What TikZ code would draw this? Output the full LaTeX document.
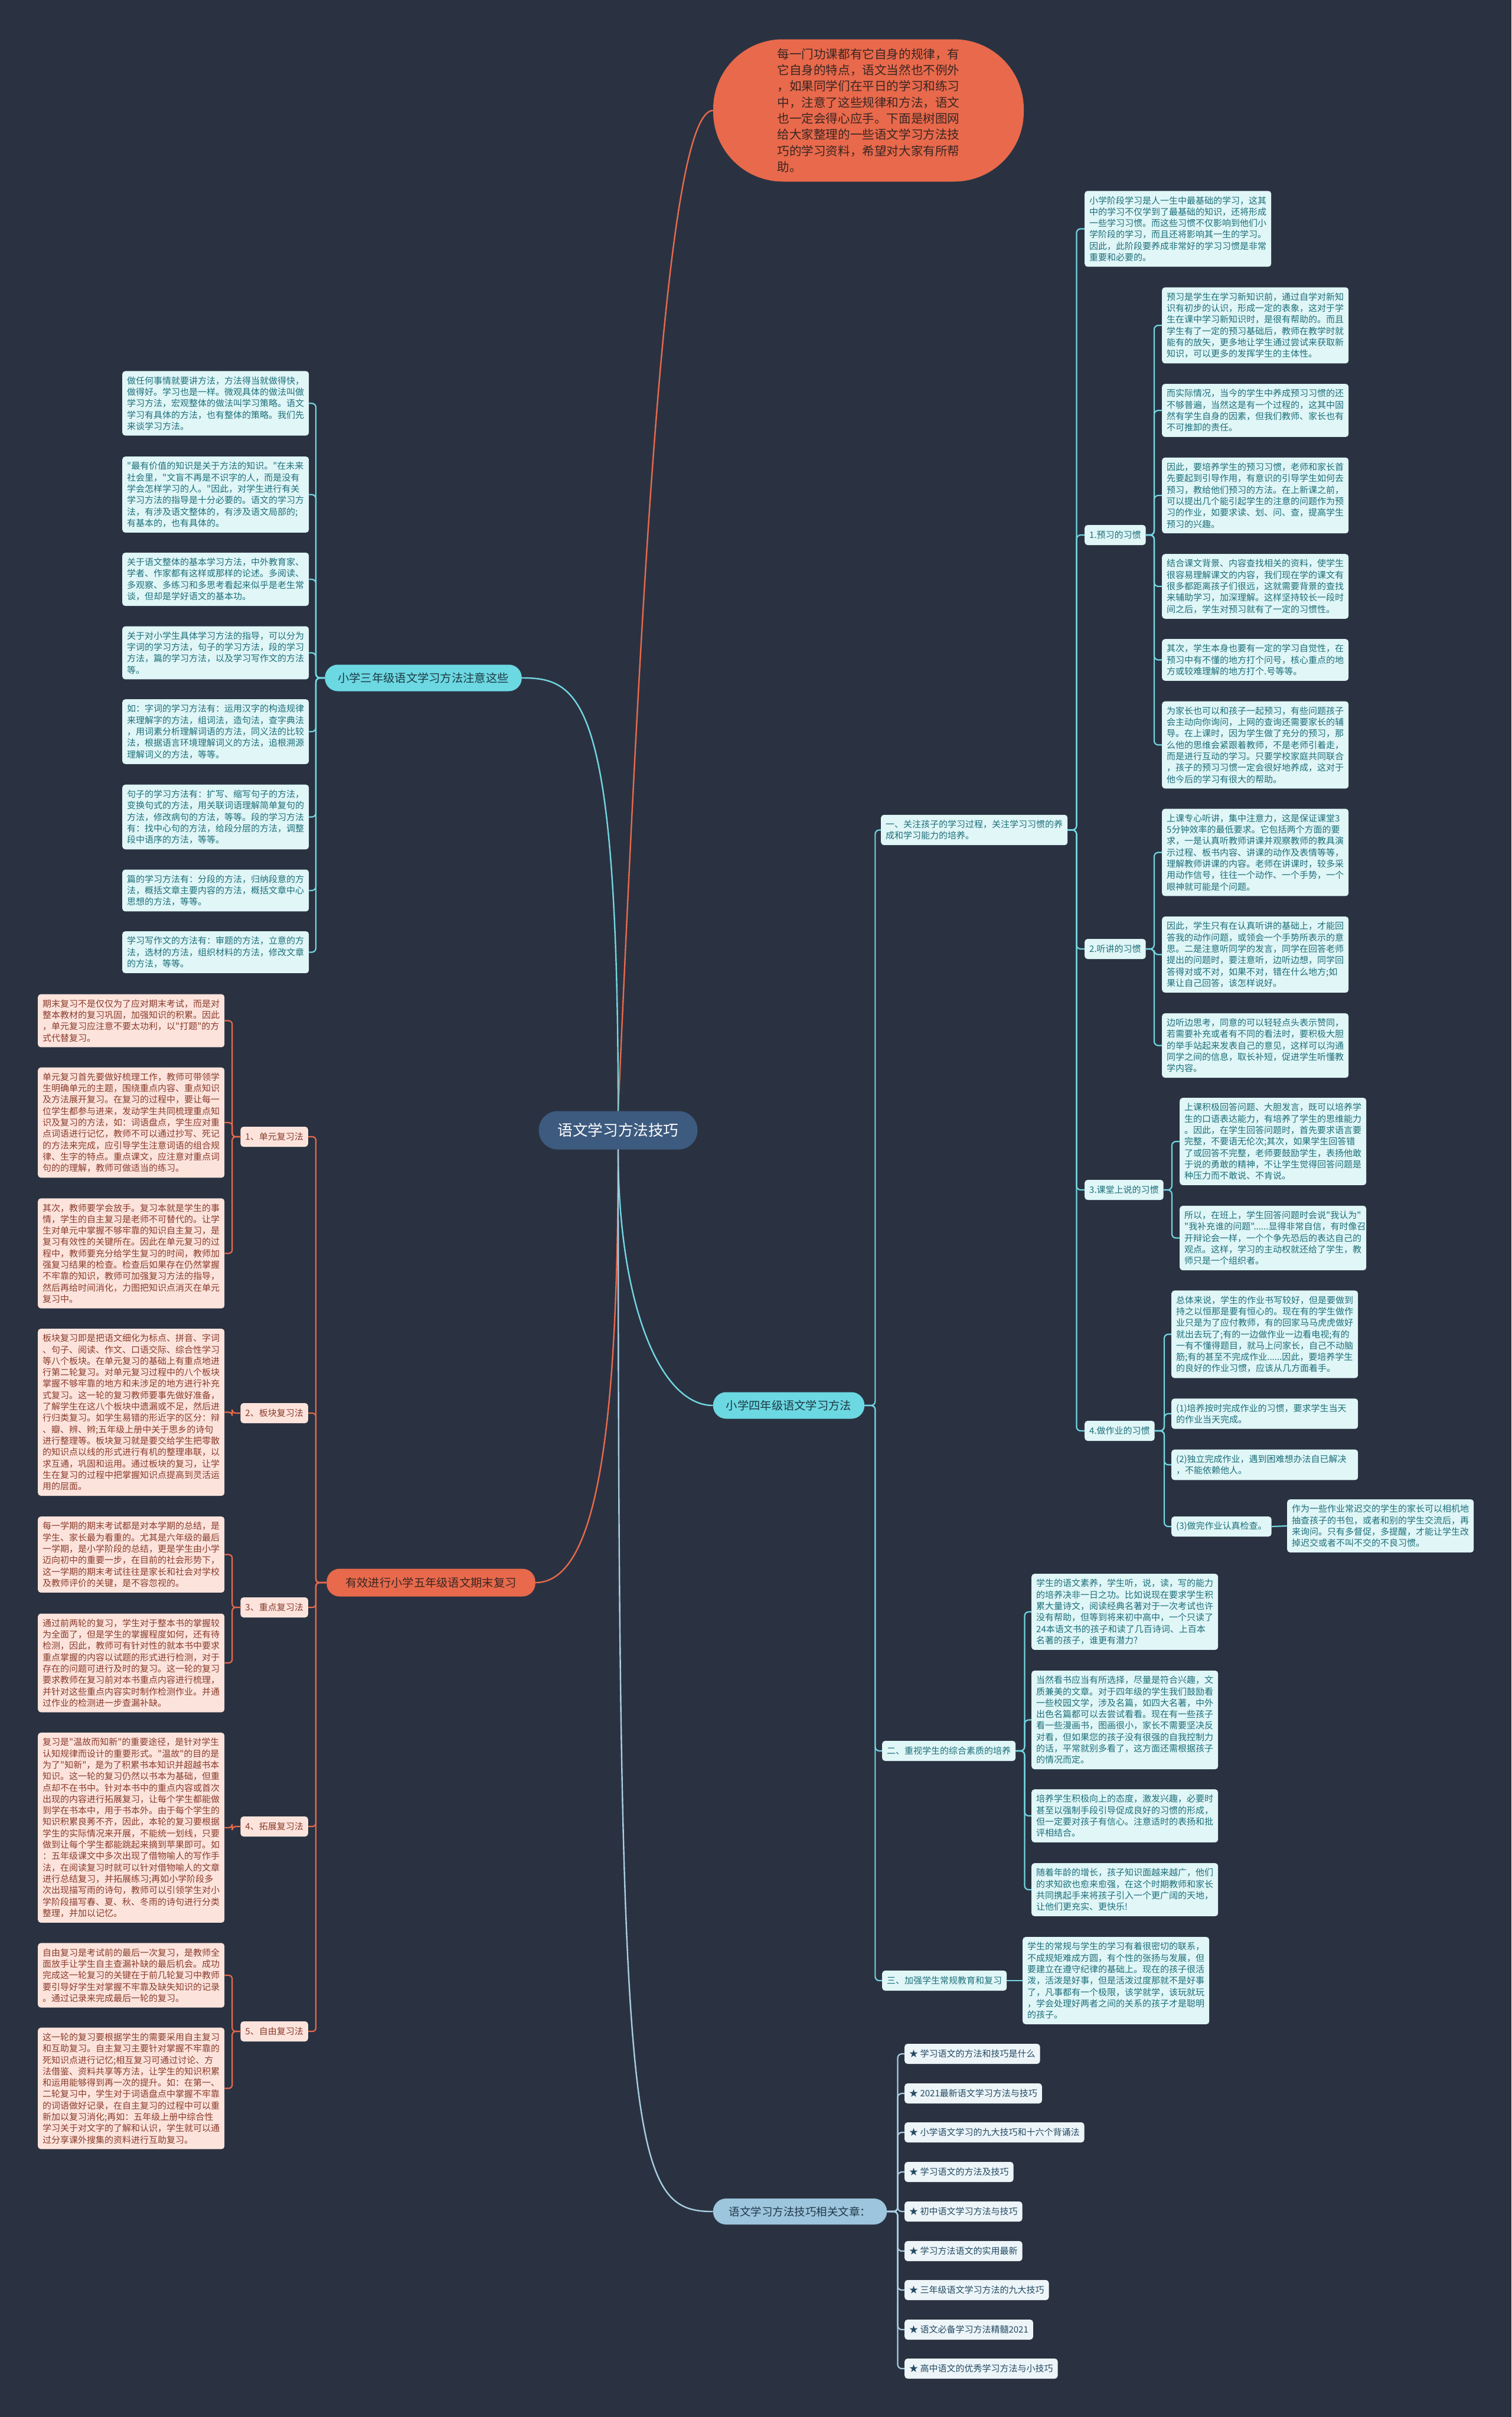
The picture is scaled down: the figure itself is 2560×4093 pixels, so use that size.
\documentclass[tikz,border=0pt]{standalone}
\usepackage{fontspec}
\setmainfont{Noto Sans CJK SC}[Ligatures=TeXOff]
\definecolor{bgdark}{HTML}{2A3241}
\definecolor{cyanline}{HTML}{72D6E1}
\definecolor{cyanfill}{HTML}{E0F6F7}
\definecolor{cyantext}{HTML}{1D6F7A}
\definecolor{cyanpill}{HTML}{6CD8E2}
\definecolor{pilltext}{HTML}{1D3A45}
\definecolor{orangeline}{HTML}{E8694B}
\definecolor{bubbletext}{HTML}{3A2623}
\definecolor{pinkfill}{HTML}{FCE4DD}
\definecolor{pinktext}{HTML}{8B3B2B}
\definecolor{rootfill}{HTML}{3D5A7F}
\definecolor{bluefill}{HTML}{9DC5DD}
\definecolor{bluetext}{HTML}{22394A}
\definecolor{blueline}{HTML}{A9CDE2}
\definecolor{linkfill}{HTML}{EDF5F9}
\definecolor{linktext}{HTML}{234A62}

\begin{document}
\begin{tikzpicture}[x=1pt, y=-1pt,
  notebox/.style={rectangle, rounded corners=5pt, fill=cyanfill, text=cyantext,
    font=\fontsize{15}{19.3}\selectfont, text width=300pt, align=left,
    inner xsep=8pt, inner ysep=9pt, anchor=west},
  pinkbox/.style={notebox, fill=pinkfill, text=pinktext},
  labelbox/.style={rectangle, rounded corners=5pt, fill=cyanfill, text=cyantext,
    font=\fontsize{15}{19.3}\selectfont, minimum height=34pt, inner xsep=8pt, anchor=west},
  pinklabel/.style={labelbox, fill=pinkfill, text=pinktext, anchor=east},
  linkbox/.style={labelbox, fill=linkfill, text=linktext},
  pill/.style={rectangle, rounded corners=22pt, fill=cyanpill, text=pilltext,
    font=\fontsize{19.3}{23}\selectfont, minimum height=45pt, inner xsep=22pt},
  cyanwire/.style={draw=cyanline, line width=2.2pt, rounded corners=7pt},
  orangewire/.style={draw=orangeline, line width=2.2pt, rounded corners=6pt},
  bluewire/.style={draw=blueline, line width=2.2pt, rounded corners=7pt}
]
  \useasboundingbox (0,0) rectangle (2560,4093);
  \fill[bgdark] (0,0) rectangle (2560,4093);

  \node[rectangle, rounded corners=118pt, fill=orangeline, text=bubbletext,
        font=\fontsize{20.6}{27.3}\selectfont, align=left,
        minimum width=526pt, minimum height=241pt] (intro) at (1471,187)
    {每一门功课都有它自身的规律，有\\它自身的特点，语文当然也不例外\\，如果同学们在平日的学习和练习\\中，注意了这些规律和方法，语文\\也一定会得心应手。下面是树图网\\给大家整理的一些语文学习方法技\\巧的学习资料，希望对大家有所帮\\助。};

  \node[rectangle, rounded corners=32pt, fill=rootfill, text=white,
        font=\fontsize{25.6}{30}\selectfont, minimum height=65pt, inner xsep=32pt] (root) at (1047,1914) {语文学习方法技巧};

  \node[pill] (grade3) at (717,1148) {小学三年级语文学习方法注意这些};
  \node[pill] (grade4) at (1336,2380) {小学四年级语文学习方法};
  \node[pill, fill=orangeline, text=bubbletext, inner xsep=32pt, minimum height=47pt] (grade5) at (730,2680) {有效进行小学五年级语文期末复习};
  \node[pill, fill=bluefill, text=bluetext, font=\fontsize{18.5}{22}\selectfont, inner xsep=27pt, minimum height=44pt] (related) at (1355,3745) {语文学习方法技巧相关文章：};

  % grade 3
  \node[notebox] (meth1) at (207,683) {做任何事情就要讲方法，方法得当就做得快，\\做得好。学习也是一样。微观具体的做法叫做\\学习方法，宏观整体的做法叫学习策略。语文\\学习有具体的方法，也有整体的策略。我们先\\来谈学习方法。};
  \node[notebox] (meth2) at (207,837.5) {"最有价值的知识是关于方法的知识。"在未来\\社会里，"文盲不再是不识字的人，而是没有\\学会怎样学习的人。"因此，对学生进行有关\\学习方法的指导是十分必要的。语文的学习方\\法，有涉及语文整体的，有涉及语文局部的;\\有基本的，也有具体的。};
  \node[notebox] (meth3) at (207,981) {关于语文整体的基本学习方法，中外教育家、\\学者、作家都有这样或那样的论述。多阅读、\\多观察、多练习和多思考看起来似乎是老生常\\谈，但却是学好语文的基本功。};
  \node[notebox] (meth4) at (207,1105.5) {关于对小学生具体学习方法的指导，可以分为\\字词的学习方法，句子的学习方法，段的学习\\方法，篇的学习方法，以及学习写作文的方法\\等。};
  \node[notebox] (meth5) at (207,1239) {如：字词的学习方法有：运用汉字的构造规律\\来理解字的方法，组词法，造句法，查字典法\\，用词素分析理解词语的方法，同义法的比较\\法，根据语言环境理解词义的方法，追根溯源\\理解词义的方法，等等。};
  \node[notebox] (meth6) at (207,1383.5) {句子的学习方法有：扩写、缩写句子的方法，\\变换句式的方法，用关联词语理解简单复句的\\方法，修改病句的方法，等等。段的学习方法\\有：找中心句的方法，给段分层的方法，调整\\段中语序的方法，等等。};
  \node[notebox] (meth7) at (207,1508) {篇的学习方法有：分段的方法，归纳段意的方\\法，概括文章主要内容的方法，概括文章中心\\思想的方法，等等。};
  \node[notebox] (meth8) at (207,1612.5) {学习写作文的方法有：审题的方法，立意的方\\法，选材的方法，组织材料的方法，修改文章\\的方法，等等。};

  % grade 4
  \node[notebox] (habits) at (1492,1405.5) {一、关注孩子的学习过程，关注学习习惯的养\\成和学习能力的培养。};
  \node[labelbox] (quality) at (1494,2965) {二、重视学生的综合素质的培养};
  \node[labelbox] (routine) at (1494,3354) {三、加强学生常规教育和复习};

  \node[notebox] (habit0) at (1837,387.5) {小学阶段学习是人一生中最基础的学习，这其\\中的学习不仅学到了最基础的知识，还将形成\\一些学习习惯。而这些习惯不仅影响到他们小\\学阶段的学习，而且还将影响其一生的学习。\\因此，此阶段要养成非常好的学习习惯是非常\\重要和必要的。};
  \node[labelbox] (preview) at (1837,906) {1.预习的习惯};
  \node[labelbox] (listen) at (1837,1607) {2.听讲的习惯};
  \node[labelbox] (speak) at (1837,2015) {3.课堂上说的习惯};
  \node[labelbox] (homework) at (1837,2423) {4.做作业的习惯};

  \node[notebox] (pre1) at (1968,551) {预习是学生在学习新知识前，通过自学对新知\\识有初步的认识，形成一定的表象，这对于学\\生在课中学习新知识时，是很有帮助的。而且\\学生有了一定的预习基础后，教师在教学时就\\能有的放矢，更多地让学生通过尝试来获取新\\知识，可以更多的发挥学生的主体性。};
  \node[notebox] (pre2) at (1968,695) {而实际情况，当今的学生中养成预习习惯的还\\不够普遍，当然这是有一个过程的，这其中固\\然有学生自身的因素，但我们教师、家长也有\\不可推卸的责任。};
  \node[notebox] (pre3) at (1968,839) {因此，要培养学生的预习习惯，老师和家长首\\先要起到引导作用，有意识的引导学生如何去\\预习，教给他们预习的方法。在上新课之前，\\可以提出几个能引起学生的注意的问题作为预\\习的作业，如要求读、划、问、查，提高学生\\预习的兴趣。};
  \node[notebox] (pre4) at (1968,993) {结合课文背景、内容查找相关的资料，使学生\\很容易理解课文的内容，我们现在学的课文有\\很多都距离孩子们很远，这就需要背景的查找\\来辅助学习，加深理解。这样坚持较长一段时\\间之后，学生对预习就有了一定的习惯性。};
  \node[notebox] (pre5) at (1968,1117.5) {其次，学生本身也要有一定的学习自觉性，在\\预习中有不懂的地方打个问号，核心重点的地\\方或较难理解的地方打个.号等等。};
  \node[notebox] (pre6) at (1968,1261.5) {为家长也可以和孩子一起预习，有些问题孩子\\会主动向你询问，上网的查询还需要家长的辅\\导。在上课时，因为学生做了充分的预习，那\\么他的思维会紧跟着教师，不是老师引着走，\\而是进行互动的学习。只要学校家庭共同联合\\，孩子的预习习惯一定会很好地养成，这对于\\他今后的学习有很大的帮助。};

  \node[notebox] (lis1) at (1968,1443.5) {上课专心听讲，集中注意力，这是保证课堂3\\5分钟效率的最低要求。它包括两个方面的要\\求，一是认真听教师讲课并观察教师的教具演\\示过程、板书内容、讲课的动作及表情等等，\\理解教师讲课的内容。老师在讲课时，较多采\\用动作信号，往往一个动作、一个手势，一个\\眼神就可能是个问题。};
  \node[notebox] (lis2) at (1968,1616.5) {因此，学生只有在认真听讲的基础上，才能回\\答我的动作问题，或领会一个手势所表示的意\\思。二是注意听同学的发言，同学在回答老师\\提出的问题时，要注意听，边听边想，同学回\\答得对或不对，如果不对，错在什么地方;如\\果让自己回答，该怎样说好。};
  \node[notebox] (lis3) at (1968,1770.5) {边听边思考，同意的可以轻轻点头表示赞同，\\若需要补充或者有不同的看法时，要积极大胆\\的举手站起来发表自己的意见，这样可以沟通\\同学之间的信息，取长补短，促进学生听懂教\\学内容。};

  \node[notebox] (spk1) at (1998,1933) {上课积极回答问题、大胆发言，既可以培养学\\生的口语表达能力，有培养了学生的思维能力\\。因此，在学生回答问题时，首先要求语言要\\完整，不要语无伦次;其次，如果学生回答错\\了或回答不完整，老师要鼓励学生，表扬他敢\\于说的勇敢的精神，不让学生觉得回答问题是\\种压力而不敢说、不肯说。};
  \node[notebox] (spk2) at (1998,2096.5) {所以，在班上，学生回答问题时会说"我认为"\\"我补充谁的问题"......显得非常自信，有时像召\\开辩论会一样，一个个争先恐后的表达自己的\\观点。这样，学习的主动权就还给了学生，教\\师只是一个组织者。};

  \node[notebox] (hw1) at (1984,2259.5) {总体来说，学生的作业书写较好，但是要做到\\持之以恒那是要有恒心的。现在有的学生做作\\业只是为了应付教师，有的回家马马虎虎做好\\就出去玩了;有的一边做作业一边看电视;有的\\一有不懂得题目，就马上问家长，自己不动脑\\筋;有的甚至不完成作业......因此，要培养学生\\的良好的作业习惯，应该从几方面着手。};
  \node[notebox] (hw2) at (1984,2394) {(1)培养按时完成作业的习惯，要求学生当天\\的作业当天完成。};
  \node[notebox] (hw3) at (1984,2480.5) {(2)独立完成作业，遇到困难想办法自已解决\\，不能依赖他人。};
  \node[labelbox] (hw4) at (1984,2585) {(3)做完作业认真检查。};
  \node[notebox] (hw5) at (2180,2584) {作为一些作业常迟交的学生的家长可以相机地\\抽查孩子的书包，或者和别的学生交流后，再\\来询问。只有多督促，多提醒，才能让学生改\\掉迟交或者不叫不交的不良习惯。};

  \node[notebox] (qual1) at (1747,2729.5) {学生的语文素养，学生听，说，读，写的能力\\的培养决非一日之功。比如说现在要求学生积\\累大量诗文，阅读经典名著对于一次考试也许\\没有帮助，但等到将来初中高中，一个只读了\\24本语文书的孩子和读了几百诗词、上百本\\名著的孩子，谁更有潜力?};
  \node[notebox] (qual2) at (1747,2912.5) {当然看书应当有所选择，尽量是符合兴趣，文\\质兼美的文章。对于四年级的学生我们鼓励看\\一些校园文学，涉及名篇，如四大名著，中外\\出色名篇都可以去尝试看看。现在有一些孩子\\看一些漫画书，图画很小，家长不需要坚决反\\对看，但如果您的孩子没有很强的自我控制力\\的话，平常就别多看了，这方面还需根据孩子\\的情况而定。};
  \node[notebox] (qual3) at (1747,3075) {培养学生积极向上的态度，激发兴趣，必要时\\甚至以强制手段引导促成良好的习惯的形成，\\但一定要对孩子有信心。注意适时的表扬和批\\评相结合。};
  \node[notebox] (qual4) at (1747,3200) {随着年龄的增长，孩子知识面越来越广，他们\\的求知欲也愈来愈强，在这个时期教师和家长\\共同携起手来将孩子引入一个更广阔的天地，\\让他们更充实、更快乐!};
  \node[notebox] (rout1) at (1732,3354) {学生的常规与学生的学习有着很密切的联系，\\不成规矩难成方圆，有个性的张扬与发展，但\\要建立在遵守纪律的基础上。现在的孩子很活\\泼，活泼是好事，但是活泼过度那就不是好事\\了，凡事都有一个极限，该学就学，该玩就玩\\，学会处理好两者之间的关系的孩子才是聪明\\的孩子。};

  % grade 5
  \node[pinklabel] (unitrev) at (522,1925) {1、单元复习法};
  \node[pinklabel] (blockrev) at (522,2393) {2、板块复习法};
  \node[pinklabel] (keyrev) at (522,2722) {3、重点复习法};
  \node[pinklabel] (extrev) at (522,3093) {4、拓展复习法};
  \node[pinklabel] (freerev) at (522,3440) {5、自由复习法};

  \node[pinkbox] (unit1) at (64,1728.5) {期末复习不是仅仅为了应对期末考试，而是对\\整本教材的复习巩固，加强知识的积累。因此\\，单元复习应注意不要太功利，以"打题"的方\\式代替复习。};
  \node[pinkbox] (unit2) at (64,1901) {单元复习首先要做好梳理工作，教师可带领学\\生明确单元的主题，围绕重点内容、重点知识\\及方法展开复习。在复习的过程中，要让每一\\位学生都参与进来，发动学生共同梳理重点知\\识及复习的方法，如：词语盘点，学生应对重\\点词语进行记忆，教师不可以通过抄写、死记\\的方法来完成，应引导学生注意词语的组合规\\律、生字的特点。重点课文，应注意对重点词\\句的的理解，教师可做适当的练习。};
  \node[pinkbox] (unit3) at (64,2122.5) {其次，教师要学会放手。复习本就是学生的事\\情，学生的自主复习是老师不可替代的。让学\\生对单元中掌握不够牢靠的知识自主复习，是\\复习有效性的关键所在。因此在单元复习的过\\程中，教师要充分给学生复习的时间，教师加\\强复习结果的检查。检查后如果存在仍然掌握\\不牢靠的知识，教师可加强复习方法的指导，\\然后再给时间消化，力图把知识点消灭在单元\\复习中。};
  \node[pinkbox] (block1) at (64,2391.5) {板块复习即是把语文细化为标点、拼音、字词\\、句子、阅读、作文、口语交际、综合性学习\\等八个板块。在单元复习的基础上有重点地进\\行第二轮复习。对单元复习过程中的八个板块\\掌握不够牢靠的地方和未涉足的地方进行补充\\式复习。这一轮的复习教师要事先做好准备，\\了解学生在这八个板块中遗漏或不足，然后进\\行归类复习。如学生易错的形近字的区分：辩\\、瓣、辨、辫;五年级上册中关于思乡的诗句\\进行整理等。板块复习就是要交给学生把零散\\的知识点以线的形式进行有机的整理串联，以\\求互通，巩固和运用。通过板块的复习，让学\\生在复习的过程中把掌握知识点提高到灵活运\\用的层面。};
  \node[pinkbox] (key1) at (64,2632.5) {每一学期的期末考试都是对本学期的总结，是\\学生、家长最为看重的。尤其是六年级的最后\\一学期，是小学阶段的总结，更是学生由小学\\迈向初中的重要一步，在目前的社会形势下，\\这一学期的期末考试往往是家长和社会对学校\\及教师评价的关键，是不容忽视的。};
  \node[pinkbox] (key2) at (64,2816) {通过前两轮的复习，学生对于整本书的掌握较\\为全面了，但是学生的掌握程度如何，还有待\\检测，因此，教师可有针对性的就本书中要求\\重点掌握的内容以试题的形式进行检测，对于\\存在的问题可进行及时的复习。这一轮的复习\\要求教师在复习前对本书重点内容进行梳理，\\并针对这些重点内容实时制作检测作业。并通\\过作业的检测进一步查漏补缺。};
  \node[pinkbox] (ext1) at (64,3095) {复习是"温故而知新"的重要途径，是针对学生\\认知规律而设计的重要形式。"温故"的目的是\\为了"知新"，是为了积累书本知识并超越书本\\知识。这一轮的复习仍然以书本为基础，但重\\点却不在书中。针对本书中的重点内容或首次\\出现的内容进行拓展复习，让每个学生都能做\\到学在书本中，用于书本外。由于每个学生的\\知识积累良莠不齐，因此，本轮的复习要根据\\学生的实际情况来开展，不能统一划线，只要\\做到让每个学生都能跳起来摘到苹果即可。如\\：五年级课文中多次出现了借物喻人的写作手\\法，在阅读复习时就可以针对借物喻人的文章\\进行总结复习，并拓展练习;再如小学阶段多\\次出现描写雨的诗句，教师可以引领学生对小\\学阶段描写春、夏、秋、冬雨的诗句进行分类\\整理，并加以记忆。};
  \node[pinkbox] (free1) at (64,3345) {自由复习是考试前的最后一次复习，是教师全\\面放手让学生自主查漏补缺的最后机会。成功\\完成这一轮复习的关键在于前几轮复习中教师\\要引导好学生对掌握不牢靠及缺失知识的记录\\。通过记录来完成最后一轮的复习。};
  \node[pinkbox] (free2) at (64,3536.5) {这一轮的复习要根据学生的需要采用自主复习\\和互助复习。自主复习主要针对掌握不牢靠的\\死知识点进行记忆;相互复习可通过讨论、方\\法借鉴、资料共享等方法，让学生的知识积累\\和运用能够得到再一次的提升。如：在第一、\\二轮复习中，学生对于词语盘点中掌握不牢靠\\的词语做好记录，在自主复习的过程中可以重\\新加以复习消化;再如：五年级上册中综合性\\学习关于对文字的了解和认识，学生就可以通\\过分享课外搜集的资料进行互助复习。};

  % related articles
  \node[linkbox] (link1) at (1532,3478) {★ 学习语文的方法和技巧是什么};
  \node[linkbox] (link2) at (1532,3545) {★ 2021最新语文学习方法与技巧};
  \node[linkbox] (link3) at (1532,3611) {★ 小学语文学习的九大技巧和十六个背诵法};
  \node[linkbox] (link4) at (1532,3678) {★ 学习语文的方法及技巧};
  \node[linkbox] (link5) at (1532,3745) {★ 初中语文学习方法与技巧};
  \node[linkbox] (link6) at (1532,3812) {★ 学习方法语文的实用最新};
  \node[linkbox] (link7) at (1532,3878) {★ 三年级语文学习方法的九大技巧};
  \node[linkbox] (link8) at (1532,3945) {★ 语文必备学习方法精髓2021};
  \node[linkbox] (link9) at (1532,4011) {★ 高中语文的优秀学习方法与小技巧};

  \draw[orangeline, line width=2.4pt] (intro.west) .. controls +(-80,0) and +(40,-900) .. (root.north);
  \draw[cyanline, line width=2.4pt] (root.north) .. controls +(0,-700) and +(100,0) .. (grade3.east);
  \draw[cyanline, line width=2.4pt] (root.south) .. controls +(0,260) and +(-90,0) .. (grade4.west);
  \draw[orangeline, line width=2.4pt] (root.south) .. controls +(0,500) and +(100,0) .. (grade5.east);
  \draw[blueline, line width=2.4pt] (root.south) .. controls +(0,1700) and +(-140,0) .. (related.west);

  \draw[cyanwire] (grade3.west) -- ++(-15,0) |- (meth1.east);
  \draw[cyanwire] (grade3.west) -- ++(-15,0) |- (meth2.east);
  \draw[cyanwire] (grade3.west) -- ++(-15,0) |- (meth3.east);
  \draw[cyanwire] (grade3.west) -- ++(-15,0) |- (meth4.east);
  \draw[cyanwire] (grade3.west) -- ++(-15,0) |- (meth5.east);
  \draw[cyanwire] (grade3.west) -- ++(-15,0) |- (meth6.east);
  \draw[cyanwire] (grade3.west) -- ++(-15,0) |- (meth7.east);
  \draw[cyanwire] (grade3.west) -- ++(-15,0) |- (meth8.east);

  \draw[cyanwire] (grade4.east) -- ++(18,0) |- (habits.west);
  \draw[cyanwire] (grade4.east) -- ++(18,0) |- (quality.west);
  \draw[cyanwire] (grade4.east) -- ++(18,0) |- (routine.west);

  \draw[cyanwire] (habits.east) -- ++(15,0) |- (habit0.west);
  \draw[cyanwire] (habits.east) -- ++(15,0) |- (preview.west);
  \draw[cyanwire] (habits.east) -- ++(15,0) |- (listen.west);
  \draw[cyanwire] (habits.east) -- ++(15,0) |- (speak.west);
  \draw[cyanwire] (habits.east) -- ++(15,0) |- (homework.west);

  \draw[cyanwire] (preview.east) -- ++(14,0) |- (pre1.west);
  \draw[cyanwire] (preview.east) -- ++(14,0) |- (pre2.west);
  \draw[cyanwire] (preview.east) -- ++(14,0) |- (pre3.west);
  \draw[cyanwire] (preview.east) -- ++(14,0) |- (pre4.west);
  \draw[cyanwire] (preview.east) -- ++(14,0) |- (pre5.west);
  \draw[cyanwire] (preview.east) -- ++(14,0) |- (pre6.west);
  \draw[cyanwire] (listen.east) -- ++(14,0) |- (lis1.west);
  \draw[cyanwire] (listen.east) -- ++(14,0) |- (lis2.west);
  \draw[cyanwire] (listen.east) -- ++(14,0) |- (lis3.west);
  \draw[cyanwire] (speak.east) -- ++(14,0) |- (spk1.west);
  \draw[cyanwire] (speak.east) -- ++(14,0) |- (spk2.west);
  \draw[cyanwire] (homework.east) -- ++(16,0) |- (hw1.west);
  \draw[cyanwire] (homework.east) -- ++(16,0) |- (hw2.west);
  \draw[cyanwire] (homework.east) -- ++(16,0) |- (hw3.west);
  \draw[cyanwire] (homework.east) -- ++(16,0) |- (hw4.west);
  \draw[cyanwire] (hw4.east) -- (hw5.west);

  \draw[cyanwire] (quality.east) -- ++(15,0) |- (qual1.west);
  \draw[cyanwire] (quality.east) -- ++(15,0) |- (qual2.west);
  \draw[cyanwire] (quality.east) -- ++(15,0) |- (qual3.west);
  \draw[cyanwire] (quality.east) -- ++(15,0) |- (qual4.west);
  \draw[cyanwire] (routine.east) -- (rout1.west);

  \draw[orangewire] (grade5.west) -- ++(-18,0) |- (unitrev.east);
  \draw[orangewire] (grade5.west) -- ++(-18,0) |- (blockrev.east);
  \draw[orangewire] (grade5.west) -- ++(-18,0) |- (keyrev.east);
  \draw[orangewire] (grade5.west) -- ++(-18,0) |- (extrev.east);
  \draw[orangewire] (grade5.west) -- ++(-18,0) |- (freerev.east);

  \draw[orangewire] (unitrev.west) -- ++(-14,0) |- (unit1.east);
  \draw[orangewire] (unitrev.west) -- ++(-14,0) |- (unit2.east);
  \draw[orangewire] (unitrev.west) -- ++(-14,0) |- (unit3.east);
  \draw[orangewire] (blockrev.west) -- ++(-14,0) |- (block1.east);
  \draw[orangewire] (keyrev.west) -- ++(-14,0) |- (key1.east);
  \draw[orangewire] (keyrev.west) -- ++(-14,0) |- (key2.east);
  \draw[orangewire] (extrev.west) -- ++(-14,0) |- (ext1.east);
  \draw[orangewire] (freerev.west) -- ++(-14,0) |- (free1.east);
  \draw[orangewire] (freerev.west) -- ++(-14,0) |- (free2.east);

  \draw[bluewire] (related.east) -- ++(18,0) |- (link1.west);
  \draw[bluewire] (related.east) -- ++(18,0) |- (link2.west);
  \draw[bluewire] (related.east) -- ++(18,0) |- (link3.west);
  \draw[bluewire] (related.east) -- ++(18,0) |- (link4.west);
  \draw[bluewire] (related.east) -- ++(18,0) |- (link5.west);
  \draw[bluewire] (related.east) -- ++(18,0) |- (link6.west);
  \draw[bluewire] (related.east) -- ++(18,0) |- (link7.west);
  \draw[bluewire] (related.east) -- ++(18,0) |- (link8.west);
  \draw[bluewire] (related.east) -- ++(18,0) |- (link9.west);
\end{tikzpicture}
\end{document}
